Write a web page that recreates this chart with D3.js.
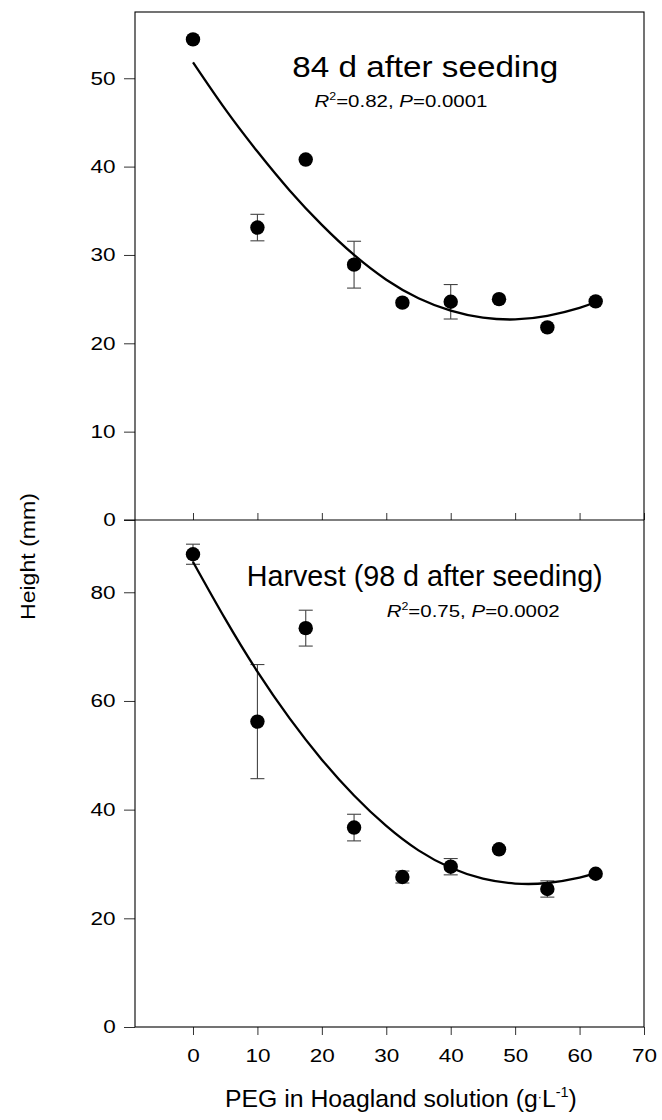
<!DOCTYPE html>
<html>
<head>
<meta charset="utf-8">
<script src="https://cdn.jsdelivr.net/npm/d3@7"></script>
<style>
  html, body { margin: 0; padding: 0; background: #fff; }
  svg { display: block; }
  text { font-family: "Liberation Sans", Arial, Helvetica, sans-serif; fill: #000; }
</style>
</head>
<body>
<svg id="chart" width="662" height="1120"></svg>
<script>
// ---------- data ----------
const peg = [0, 10, 17.5, 25, 32.5, 40, 47.5, 55, 62.5];
const height84 = [54.4, 33.1, 40.8, 28.9, 24.6, 24.7, 25.0, 21.8, 24.75];
const se84 = [0, 1.5, 0, 2.65, 0, 1.95, 0, 0, 0];
const height98 = [87.0, 56.2, 73.4, 36.7, 27.6, 29.5, 32.7, 25.4, 28.2];
const se98 = [1.85, 10.5, 3.3, 2.45, 1.1, 1.5, 0, 1.5, 0];

const curveX = [0, 5, 10, 15, 20, 25, 30, 35, 40, 45, 50, 55, 60, 62.5];
const fit84 = [51.8, 46.5, 41.7, 37.3, 33.4, 30.0, 27.2, 25.1, 23.7, 22.9, 22.7, 23.1, 24.0, 24.7];
const fit98 = [85.6, 75.1, 65.4, 56.8, 49.2, 42.6, 37.0, 32.5, 29.3, 27.3, 26.4, 26.5, 27.5, 28.3];

const xTicks = [0, 10, 20, 30, 40, 50, 60, 70];
const yTicks84 = [0, 10, 20, 30, 40, 50];
const yTicks98 = [0, 20, 40, 60, 80];

const title84 = "84 d after seeding";
const title98 = "Harvest (98 d after seeding)";
const stats84 = { r2: "0.82", p: "0.0001" };
const stats98 = { r2: "0.75", p: "0.0002" };
const xTitle = "PEG in Hoagland solution (g";
const yTitle = "Height (mm)";

// ---------- layout ----------
const L = 135, R = 644, T = 12, M = 520, B = 1027;
const svg = d3.select("#chart");

const x = d3.scaleLinear().domain([-9, 70]).range([L, R]);
const y84 = d3.scaleLinear().domain([0, 57.5]).range([M, T]);
const y98 = d3.scaleLinear().domain([0, 93.3]).range([B, M]);

const TICK_SX = 1.25;
const TICK_FS = "18px";

function fitText(sel, tx, ty, target, rotate) {
  const w = sel.node().getComputedTextLength();
  const s = w > 0 ? target / w : 1;
  sel.attr("transform", `translate(${tx},${ty})${rotate ? " rotate(-90)" : ""} scale(${s},1)`);
}

function yAxis(scale, ticks) {
  const g = svg.append("g")
    .attr("transform", `translate(${L},0)`)
    .call(d3.axisLeft(scale).tickValues(ticks).tickSize(11).tickPadding(4.5).tickFormat(d3.format("d")));
  g.select(".domain").remove();
  g.selectAll(".tick line").attr("stroke", "#333").attr("stroke-width", 1);
  g.selectAll(".tick text")
    .style("font-size", TICK_FS)
    .attr("fill", "#000")
    .attr("transform", `scale(${TICK_SX},1)`);
  return g;
}

function panel(yScale, yTicks, values, errs, fit) {
  yAxis(yScale, yTicks);
  // error bars
  const eb = svg.append("g").attr("stroke", "#444").attr("stroke-width", 1.1).attr("fill", "none");
  peg.forEach((p, i) => {
    if (!errs[i]) return;
    const cx = x(p), y1 = yScale(values[i] + errs[i]), y2 = yScale(values[i] - errs[i]);
    eb.append("line").attr("x1", cx).attr("x2", cx).attr("y1", y1).attr("y2", y2);
    eb.append("line").attr("x1", cx - 7).attr("x2", cx + 7).attr("y1", y1).attr("y2", y1);
    eb.append("line").attr("x1", cx - 7).attr("x2", cx + 7).attr("y1", y2).attr("y2", y2);
  });
  // fitted curve
  const line = d3.line()
    .x((d, i) => x(curveX[i]))
    .y(d => yScale(d))
    .curve(d3.curveNatural);
  svg.append("path")
    .datum(fit)
    .attr("d", line)
    .attr("fill", "none")
    .attr("stroke", "#000")
    .attr("stroke-width", 2.3);
  // points
  svg.append("g").selectAll("circle")
    .data(values)
    .join("circle")
    .attr("cx", (d, i) => x(peg[i]))
    .attr("cy", d => yScale(d))
    .attr("r", 7.2)
    .attr("fill", "#000");
}

panel(y84, yTicks84, height84, se84, fit84);
panel(y98, yTicks98, height98, se98, fit98);

// top panel bottom axis ticks (pointing inward, up)
const tAx = svg.append("g")
  .attr("transform", `translate(0,${M})`)
  .call(d3.axisTop(x).tickValues(xTicks).tickSize(7).tickFormat(""));
tAx.select(".domain").remove();
tAx.selectAll(".tick line").attr("stroke", "#333");

// bottom x axis
const bAx = svg.append("g")
  .attr("transform", `translate(0,${B})`)
  .call(d3.axisBottom(x).tickValues(xTicks).tickSize(8).tickPadding(14).tickFormat(d3.format("d")));
bAx.select(".domain").remove();
bAx.selectAll(".tick line").attr("stroke", "#333");
bAx.selectAll(".tick text")
  .style("font-size", TICK_FS)
  .attr("fill", "#000")
  .attr("transform", `scale(${TICK_SX},1)`);

// frames
svg.append("rect").attr("x", L).attr("y", T).attr("width", R - L).attr("height", B - T)
  .attr("fill", "none").attr("stroke", "#000").attr("stroke-width", 1.1);
svg.append("line").attr("x1", L - 11).attr("x2", R).attr("y1", M).attr("y2", M)
  .attr("stroke", "#000").attr("stroke-width", 1.1);

// titles
const t1 = svg.append("text").style("font-size", "30px").text(title84);
fitText(t1, 292.3, 76.5, 266);
const t2 = svg.append("text").style("font-size", "29px").text(title98);
fitText(t2, 246.7, 585.7, 356);

function stats(s, tx, ty, w) {
  const t = svg.append("text").style("font-size", "16.5px");
  t.append("tspan").style("font-style", "italic").text("R");
  t.append("tspan").attr("dy", -7).style("font-size", "10px").text("2");
  t.append("tspan").attr("dy", 7).text("=" + s.r2 + ", ");
  t.append("tspan").style("font-style", "italic").text("P");
  t.append("tspan").text("=" + s.p);
  fitText(t, tx, ty, w);
}
stats(stats84, 314.5, 107, 173);
stats(stats98, 386.7, 616.7, 173);

// axis titles
const xt = svg.append("text").style("font-size", "24px");
xt.append("tspan").text(xTitle);
xt.append("tspan").attr("dy", -6).style("font-size", "12px").text("\u00B7");
xt.append("tspan").attr("dy", 6).text("L");
xt.append("tspan").attr("dy", -10).style("font-size", "14px").text("-1");
xt.append("tspan").attr("dy", 10).text(")");
fitText(xt, 225, 1106.7, 352);

const yt = svg.append("text").style("font-size", "20px").text(yTitle);
fitText(yt, 35, 620, 127, true);
</script>
</body>
</html>
